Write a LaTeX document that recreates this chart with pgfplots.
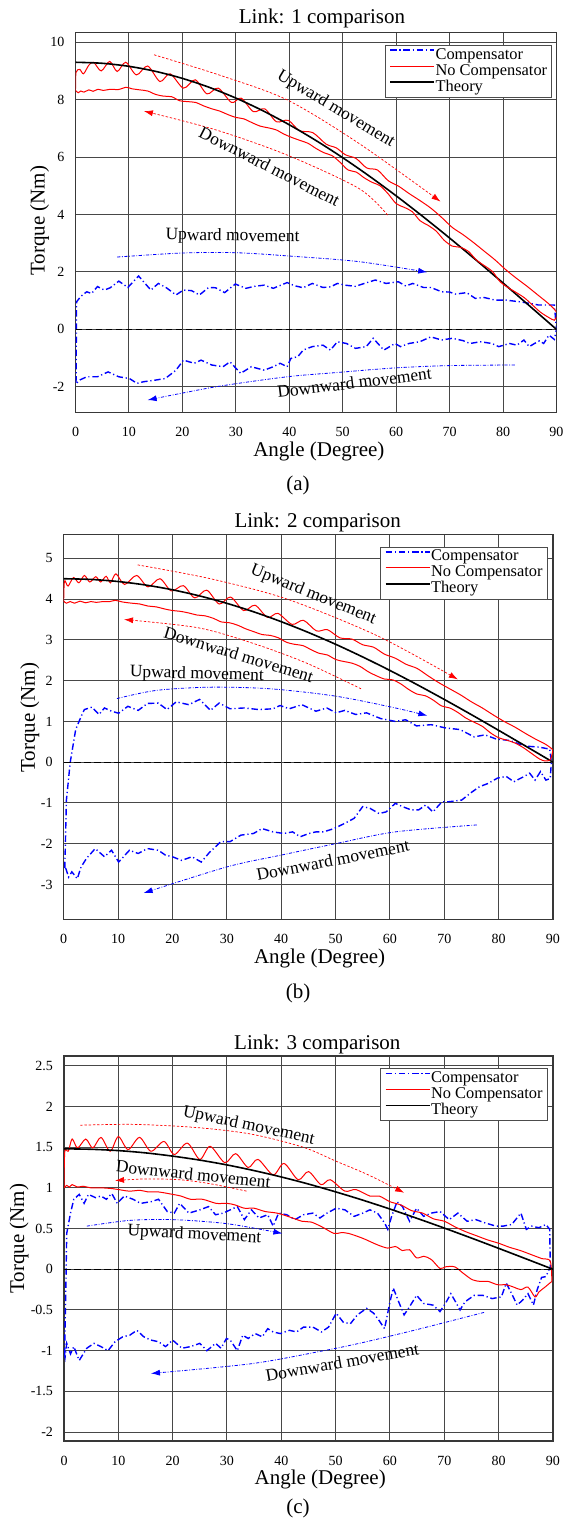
\documentclass[border=0pt]{standalone}
\usepackage{fontspec}
\setmainfont{Liberation Serif}
\usepackage{pgfplots}
\pgfplotsset{compat=1.18}
\usetikzlibrary{arrows.meta}

\newcommand\tickfont{\fontsize{7}{8}\selectfont}
\newcommand\labfont{\fontsize{10.5}{12}\selectfont}
\newcommand\legfont{\fontsize{8.2}{9}\selectfont}
\newcommand\annfont{\fontsize{8.7}{10}\selectfont}

\pgfplotsset{
  every axis title/.style={font=\labfont, anchor=base},
  linkpanel/.style={
    scale only axis, xmin=0, xmax=90, xtick={0,10,...,90},
    grid=major, major grid style={black!72, line width=0.5pt},
    axis line style={black!78, line width=0.6pt},
    major tick length=0pt,
    tick label style={font=\tickfont},
    xticklabel style={yshift=-3.8pt},
    yticklabel style={xshift=-2pt},
    /pgf/number format/assume math mode=true,
    xlabel style={font=\labfont, anchor=base},
    ylabel style={font=\labfont, anchor=base},
    xlabel={Angle (Degree)}, ylabel={Torque (Nm)},
    legend cell align=left,
    legend style={anchor=north east, draw=black!70, line width=0.5pt, fill=white,
      font=\legfont, inner xsep=2pt, inner ysep=1pt, row sep=0pt,
      nodes={inner sep=0.25pt, text height=5.6pt, text depth=1.9pt},
      /tikz/every even column/.append style={column sep=1.8pt}},
    legend image code/.code={\draw[##1] (0pt,2.6pt) -- (22pt,2.6pt);},
  },
  comp/.style={blue, line width=0.7pt, dash pattern=on 3.2pt off 1.4pt on 0.6pt off 1.4pt},
  nocomp/.style={red, line width=0.5pt, smooth},
  theory/.style={black, line width=0.8pt, smooth},
  zeroline/.style={black, line width=0.6pt, dash pattern=on 3.4pt off 1.6pt, forget plot},
  redarrow/.style={red, line width=0.35pt, dash pattern=on 1.2pt off 0.9pt, smooth, forget plot, -{Latex[length=4.5pt,width=3pt]}},
  bluearrow/.style={blue, line width=0.4pt, dash pattern=on 1.6pt off 0.8pt on 0.4pt off 0.8pt, smooth, forget plot, -{Latex[length=4.5pt,width=3pt]}},
}

\begin{document}
\begin{tikzpicture}
\useasboundingbox (0,0) rectangle (281.5pt,-759pt);

% ---------------- Link 1 ----------------
\begin{axis}[linkpanel, at={(37.75pt,-16.35pt)}, anchor=north west,
  width=240.5pt, height=190pt, ymin=-2.9, ymax=10.33, ytick={-2,0,...,10},
  title={Link: 1 comparison},
  title style={at={(axis description cs:0.5125,1.023)}},
  xlabel style={at={(axis description cs:0.506,-0.114)}},
  ylabel style={at={(axis description cs:-0.064,0.505)}},
  legend style={at={(0.991,0.968)}}]
\addplot[comp] coordinates {
 (0.1,-1.85) (0.2,0.96) (1,1.15) (2.1,1.31) (3,1.25) (4.1,1.49) (5.4,1.37) (6.5,1.45)
 (8.1,1.68) (9.8,1.46) (11.8,1.86) (14.1,1.37) (15.5,1.6) (17,1.45) (18.8,1.2) (20.2,1.37)
 (21.7,1.35) (23.2,1.2) (24.9,1.46) (26.2,1.45) (27.9,1.28) (29.9,1.58) (31.9,1.43) (33.5,1.5)
 (35.3,1.54) (37,1.43) (39.6,1.63) (41,1.52) (42.6,1.45) (44.3,1.6) (46.3,1.46) (47.7,1.48)
 (49,1.6) (50.4,1.54) (52.4,1.5) (53.7,1.58) (56.1,1.72) (58.1,1.6) (60.4,1.66) (61.8,1.51)
 (63.1,1.6) (65.1,1.46) (66.5,1.46) (68.5,1.31) (70,1.3) (71.1,1.23) (73.2,1.28) (74.8,1.08)
 (76.5,1.11) (78.5,1.02) (80.5,1.02) (83.2,0.96) (85.2,0.9) (86.6,0.85) (87.9,0.85) (89.6,0.85)
 (90,0) (89.6,-0.35) (88.6,-0.2) (87.6,-0.49) (86.8,-0.4) (85.9,-0.49) (84.9,-0.6) (83.9,-0.37)
 (82.6,-0.55) (81.2,-0.49) (79.2,-0.6) (77.9,-0.49) (75.8,-0.43) (73.8,-0.49) (72.5,-0.39)
 (70.5,-0.31) (68.5,-0.37) (66.5,-0.26) (64.4,-0.43) (62.4,-0.49) (60.8,-0.6) (59.8,-0.49)
 (57.7,-0.72) (55.7,-0.31) (54.4,-0.6) (52.4,-0.66) (50.7,-0.49) (49,-0.43) (47.7,-0.72)
 (46.3,-0.55) (44.3,-0.6) (42.6,-0.72) (41.6,-0.95) (40.3,-1.01) (39.6,-1.3) (38.3,-1.18)
 (37,-1.3) (35.3,-1.42) (32.9,-1.3) (30.9,-1.53) (28.9,-1.13) (27.6,-1.3) (25.5,-1.24)
 (23.5,-1.07) (22.2,-1.18) (20.2,-1.07) (18.8,-1.42) (16.8,-1.71) (14.8,-1.77) (12.8,-1.82)
 (11.5,-1.88) (10.1,-1.71) (8.1,-1.65) (6.1,-1.48) (4.1,-1.65) (2.1,-1.65) (0.7,-1.77)
 (0.2,-1.88) (0.1,-1.85)};
\addlegendentry{Compensator}
\addplot[nocomp] coordinates {
 (0,8.32) (0.1,8.95) (0.8,9.05) (1.5,8.9) (2.5,9.2) (3.4,9.3) (4.8,9.0) (6.4,9.33) (7.8,8.98)
 (9.4,9.3) (11.4,8.86) (13.5,9.17) (15.8,8.63) (17.7,8.9) (20.2,8.4) (22.4,8.69) (24.6,8.2)
 (26.7,8.4) (29.2,7.9) (31,8.05) (33.3,7.58) (35.4,7.68) (37.6,7.23) (39.8,7.28) (41.9,6.92)
 (44.4,6.85) (46.9,6.45) (48.8,6.32) (50.5,6.08) (52.5,5.95) (54.5,5.62) (56.5,5.55)
 (58.5,5.18) (60.5,4.98) (62.5,4.72) (64.5,4.48) (66.5,4.22) (68.5,3.9) (70.5,3.55)
 (72.5,3.3) (74.5,3.02) (76.5,2.72) (78.5,2.42) (80.5,2.08) (82.5,1.78) (84.5,1.5)
 (86.5,1.2) (88.5,0.9) (89.6,0.7) (90,0.6)};
\addlegendentry{No Compensator}
\addplot[theory] coordinates {
 (0,9.3) (5,9.265) (10,9.159) (15,8.983) (20,8.739) (25,8.429) (30,8.054) (35,7.618)
 (40,7.124) (45,6.576) (50,5.978) (55,5.334) (60,4.65) (65,3.93) (70,3.181) (75,2.407)
 (80,1.615) (85,0.811) (90,0)};
\addlegendentry{Theory}
\addplot[nocomp, forget plot] coordinates {
 (0,8.32) (0.5,8.24) (1,8.3) (1.6,8.26) (2.5,8.34) (3.3,8.29) (4.2,8.36) (5.2,8.32) (6.5,8.36)
 (8,8.35) (9.5,8.43) (10.5,8.38) (12,8.34) (13.5,8.3) (15,8.18) (16.5,8.12) (18,8.1)
 (19.5,7.96) (21,7.93) (22.5,7.9) (24,7.78) (25.5,7.68) (27,7.6) (28.5,7.48) (30,7.38)
 (31.5,7.33) (33,7.2) (34.5,7.08) (36,7.02) (37.5,6.95) (39,6.8) (40.5,6.68) (42,6.58)
 (43.5,6.48) (45,6.3) (46.5,6.15) (48,6.05) (49.5,5.82) (51,5.55) (52.5,5.48) (54,5.28)
 (55.5,5.12) (57,5.0) (58.5,4.72) (60,4.38) (61.5,4.25) (63,4.1) (64.5,3.78) (66,3.62)
 (67.5,3.42) (69,3.1) (70.5,2.9) (72,2.86) (73.5,2.72) (75,2.42) (76.5,2.22) (78,2.02)
 (79.5,1.65) (81,1.45) (82.5,1.28) (84,1.1) (85.5,0.85) (87,0.6) (88.5,0.42) (89.6,0.32)
 (90,0.45)};
\addplot[zeroline] coordinates {(0,0) (90,0)};
\addplot[redarrow] coordinates {(14.7,9.56) (27,8.85) (39.6,7.99) (53,6.48) (68.3,4.45)};
\addplot[redarrow] coordinates {(58.4,3.98) (53,4.91) (39.6,6.07) (26.2,6.95) (12.8,7.6)};
\addplot[bluearrow] coordinates {(7.8,2.52) (20,2.66) (30,2.67) (39.6,2.56) (53,2.36) (65.8,1.99)};
\addplot[bluearrow] coordinates {(82.2,-1.24) (70,-1.26) (59.8,-1.34) (49,-1.5) (39.6,-1.65) (26.2,-2.0) (13.5,-2.46)};
\node[font=\annfont, rotate=-31] at (axis cs:48.7,7.67) {Upward movement};
\node[font=\annfont, rotate=-27] at (axis cs:36.3,5.67) {Downward movement};
\node[font=\annfont, rotate=-1] at (axis cs:29.4,3.23) {Upward movement};
\node[font=\annfont, rotate=7] at (axis cs:52.2,-1.85) {Downward movement};
\end{axis}
\node[font=\labfont, anchor=base] at (149pt,-245pt) {(a)};

% ---------------- Link 2 ----------------
\begin{axis}[linkpanel, at={(31.85pt,-267.15pt)}, anchor=north west,
  width=244.65pt, height=192.6pt, ymin=-3.86, ymax=5.59, ytick={-3,-2,...,5},
  title={Link: 2 comparison},
  title style={at={(axis description cs:0.519,1.018)}},
  xlabel style={at={(axis description cs:0.523,-0.1137)}},
  ylabel style={at={(axis description cs:-0.0587,0.524)}},
  legend style={at={(0.989,0.968)}}]
\addplot[comp] coordinates {
 (0.2,-2.6) (0.5,-0.93) (1.2,0) (2.2,0.8) (3.2,1.12) (3.8,1.29) (5.2,1.35) (6.5,1.17) (7.5,1.33)
 (8.8,1.25) (10.1,1.2) (11.8,1.37) (13.7,1.27) (15.4,1.44) (17.4,1.45) (19,1.29) (20.7,1.48)
 (23,1.41) (25,1.54) (27,1.27) (28.6,1.45) (30.6,1.31) (33.2,1.33) (35.9,1.29) (38.5,1.31)
 (39.8,1.39) (41.5,1.31) (43.8,1.41) (46.4,1.25) (48.4,1.33) (50.1,1.21) (51.7,1.27)
 (53.7,1.17) (55.7,1.21) (58.3,1.07) (61,1.0) (62.9,1.04) (64.9,0.89) (67.6,0.92) (70.2,0.84)
 (72.9,0.8) (75.5,0.62) (77.5,0.67) (79.5,0.57) (82.1,0.53) (84.1,0.43) (85.4,0.39)
 (87.4,0.37) (89.4,0.32) (89.7,0) (89.5,-0.4) (88.7,-0.44) (87.7,-0.23) (86.7,-0.44)
 (85.7,-0.27) (84.7,-0.35) (82.8,-0.48) (81.4,-0.35) (79.8,-0.39) (78.1,-0.52) (76.5,-0.6)
 (74.8,-0.76) (73.2,-0.93) (70.9,-0.97) (69.6,-0.97) (67.9,-1.22) (66.6,-1.05) (65.3,-1.17)
 (63.9,-1.17) (62.3,-1.09) (61,-1.01) (59.3,-1.22) (58,-1.26) (56.3,-1.13) (55,-1.09)
 (53.4,-1.38) (51.7,-1.5) (49.7,-1.63) (47.8,-1.71) (46.4,-1.71) (45.1,-1.75) (43.5,-1.83)
 (42.1,-1.71) (40.5,-1.75) (38.5,-1.71) (36.5,-1.63) (34.9,-1.75) (32.6,-1.79) (30.6,-1.95)
 (28.9,-1.95) (27.9,-2.08) (26.9,-2.2) (25.3,-2.45) (23.6,-2.32) (21.7,-2.41) (20,-2.32)
 (18.7,-2.28) (17.4,-2.16) (15.4,-2.12) (13.7,-2.24) (12.1,-2.16) (10.1,-2.45) (8.8,-2.16)
 (7.5,-2.32) (5.8,-2.12) (4.2,-2.36) (3.2,-2.57) (2.5,-2.86) (1.5,-2.69) (0.9,-2.82)
 (0.3,-2.57) (0.2,-2.6)};
\addlegendentry{Compensator}
\addplot[nocomp] coordinates {
 (0,3.95) (0.15,4.45) (0.8,4.32) (1.8,4.53) (2.8,4.4) (3.8,4.58) (4.8,4.42) (5.9,4.55)
 (6.8,4.42) (7.8,4.56) (8.6,4.4) (9.6,4.62) (11.2,4.36) (13.4,4.58) (15.5,4.3) (17.7,4.5)
 (19.8,4.2) (22,4.33) (24.1,4.03) (26.3,4.22) (28.6,3.88) (30.7,4.05) (33.1,3.72) (35.2,3.85)
 (37.5,3.55) (39.4,3.65) (42,3.38) (44.1,3.48) (46.5,3.22) (48.5,3.25) (50.8,3.05) (53,3.02)
 (55,2.88) (57,2.82) (59,2.65) (61,2.55) (63,2.4) (65,2.3) (67,2.12) (69,1.95) (71,1.8)
 (73,1.65) (75,1.48) (77,1.33) (79,1.16) (81,1.0) (83,0.86) (85,0.7) (87,0.55) (88.5,0.45)
 (89.5,0.36) (90,0.3)};
\addlegendentry{No Compensator}
\addplot[theory] coordinates {
 (0,4.5) (5,4.483) (10,4.432) (15,4.347) (20,4.229) (25,4.078) (30,3.897) (35,3.686)
 (40,3.447) (45,3.182) (50,2.893) (55,2.581) (60,2.25) (65,1.902) (70,1.539) (75,1.165)
 (80,0.781) (85,0.392) (90,0)};
\addlegendentry{Theory}
\addplot[nocomp, forget plot] coordinates {
 (0,3.95) (0.5,3.9) (1.2,3.94) (2,3.9) (3,3.95) (4,3.91) (5,3.94) (6,3.92) (7.2,3.94)
 (8.5,3.94) (9.5,3.97) (10.8,3.93) (12.5,3.9) (14,3.88) (15.5,3.83) (17,3.81) (18.5,3.76)
 (20,3.72) (21.5,3.7) (23,3.66) (24.5,3.61) (26,3.59) (27.5,3.53) (29,3.44) (30.5,3.42)
 (32,3.36) (33.5,3.27) (35,3.2) (36.5,3.13) (38,3.11) (39.5,3.05) (41,2.94) (42.5,2.89)
 (44,2.86) (45.5,2.76) (47,2.67) (48.5,2.63) (50,2.52) (51.5,2.47) (53,2.43) (54.5,2.35)
 (56,2.22) (57.5,2.12) (59,2.04) (60.5,2.02) (62,1.92) (63.5,1.78) (65,1.67) (66.5,1.63)
 (68,1.52) (69.5,1.38) (71,1.33) (72.5,1.22) (74,1.08) (75.5,0.98) (77,0.88) (78.5,0.72)
 (80,0.6) (81.5,0.54) (83,0.47) (84.5,0.36) (86,0.22) (87.5,0.08) (88.5,0.03) (89.5,0.06)
 (90,0.3)};
\addplot[zeroline] coordinates {(0,0) (90,0)};
\addplot[redarrow] coordinates {(13.6,4.84) (27,4.5) (41.1,4.0) (57.7,3.1) (72.5,2.03)};
\addplot[redarrow] coordinates {(54.7,1.8) (44.5,2.44) (34.5,2.93) (24.6,3.3) (11.1,3.5)};
\addplot[bluearrow] coordinates {(9.8,1.56) (17,1.76) (27,1.84) (38,1.8) (50,1.62) (61,1.33) (66.9,1.14)};
\addplot[bluearrow] coordinates {(76,-1.54) (61,-1.71) (50,-2.0) (40,-2.28) (30,-2.57) (14.7,-3.21)};
\node[font=\annfont, rotate=-22] at (axis cs:45.9,4.1) {Upward movement};
\node[font=\annfont, rotate=-17] at (axis cs:32.2,2.64) {Downward movement};
\node[font=\annfont, rotate=-1.5] at (axis cs:24.5,2.15) {Upward movement};
\node[font=\annfont, rotate=11] at (axis cs:49.5,-2.4) {Downward movement};
\end{axis}
\node[font=\labfont, anchor=base] at (149pt,-499pt) {(b)};

% ---------------- Link 3 ----------------
\begin{axis}[linkpanel, at={(32pt,-528pt)}, anchor=north west,
  width=244.5pt, height=192.5pt, ymin=-2.11, ymax=2.62, ytick={-2,-1.5,...,2.5},
  title={Link: 3 comparison},
  title style={at={(axis description cs:0.518,1.0174)}},
  xlabel style={at={(axis description cs:0.524,-0.114)}},
  ylabel style={at={(axis description cs:-0.0814,0.525)}},
  legend style={at={(0.989,0.968)}}]
\addplot[comp] coordinates {
 (0.1,-1.04) (0.3,-0.38) (0.5,0.44) (1.2,0.69) (1.8,0.86) (2.8,0.92) (3.7,0.81) (4.5,0.92)
 (5.8,0.88) (6.8,0.9) (7.8,0.86) (8.8,0.93) (9.8,0.81) (11.1,0.9) (12.7,0.86) (14.1,0.81)
 (16,0.83) (17.4,0.86) (19,0.71) (20.3,0.69) (21.3,0.81) (23,0.69) (25,0.73) (26.6,0.77)
 (27.9,0.67) (29.3,0.69) (30.6,0.73) (31.9,0.77) (33.2,0.61) (34.5,0.73) (35.9,0.63)
 (37.5,0.67) (38.5,0.53) (39.5,0.69) (41,0.67) (42.5,0.61) (44.1,0.67) (45.8,0.69) (47.1,0.63)
 (48.4,0.69) (50.1,0.75) (51.7,0.73) (53.4,0.65) (55,0.69) (56.3,0.73) (57.7,0.69) (59,0.57)
 (59.6,0.49) (60.3,0.65) (61.3,0.83) (62.3,0.77) (63.6,0.59) (64.9,0.75) (66.2,0.65)
 (67.6,0.69) (69.2,0.71) (70.9,0.61) (72.5,0.69) (74.2,0.59) (75.8,0.61) (77.5,0.57)
 (79.5,0.53) (80.8,0.53) (82.4,0.55) (84.1,0.69) (85.1,0.49) (86.1,0.53) (87.4,0.51)
 (88.7,0.55) (89.4,0.49) (89.5,0.03) (88.7,-0.09) (87.9,-0.1) (87.1,-0.25) (86.4,-0.44)
 (85.4,-0.3) (84.4,-0.38) (83.4,-0.44) (82.4,-0.3) (81.4,-0.17) (80.5,-0.34) (78.8,-0.36)
 (77.1,-0.32) (75.5,-0.32) (73.8,-0.4) (72.9,-0.5) (71.9,-0.38) (71.2,-0.3) (70.2,-0.42)
 (69.2,-0.52) (67.9,-0.44) (66.2,-0.42) (64.9,-0.32) (63.6,-0.46) (62.6,-0.56) (61.6,-0.4)
 (60.6,-0.23) (60,-0.4) (59,-0.73) (58,-0.63) (57,-0.54) (55.7,-0.48) (54,-0.56) (52.7,-0.67)
 (51.4,-0.65) (50.1,-0.54) (48.7,-0.71) (47.4,-0.77) (45.8,-0.71) (44.1,-0.71) (42.8,-0.77)
 (41.5,-0.75) (39.8,-0.79) (38.5,-0.77) (37.5,-0.73) (36.5,-0.83) (35.2,-0.79) (33.9,-0.85)
 (32.9,-0.81) (31.9,-1.0) (30.6,-0.87) (29.9,-0.85) (28.9,-0.97) (27.9,-0.91) (26.3,-1.0)
 (25,-0.91) (23.3,-0.95) (21.7,-0.97) (20,-0.87) (18.7,-0.95) (17.4,-0.89) (16,-0.87)
 (14.7,-0.83) (13.4,-0.75) (12.1,-0.81) (10.8,-0.83) (9.4,-0.89) (8.1,-1.0) (6.8,-0.95)
 (5.5,-0.91) (4.2,-0.97) (2.8,-1.12) (1.8,-0.95) (1.2,-1.04) (0.5,-0.91) (0.2,-1.08)
 (0.1,-1.04)};
\addlegendentry{Compensator}
\addplot[nocomp] coordinates {
 (0,1.0) (0.15,1.45) (0.8,1.45) (1.5,1.6) (2.5,1.49) (4,1.6) (5.3,1.49) (6.8,1.62) (8.5,1.45)
 (10,1.63) (11.8,1.47) (13.9,1.62) (16,1.45) (18.4,1.57) (20.3,1.41) (22.7,1.55) (25,1.35)
 (26.9,1.51) (29.6,1.31) (31.6,1.42) (33.9,1.25) (35.7,1.35) (38.5,1.16) (40.5,1.3)
 (43.1,1.1) (45,1.2) (47.3,1.04) (49,1.1) (51.7,0.96) (53.7,0.98) (56.3,0.9) (58,0.9)
 (60,0.83) (62,0.79) (64,0.72) (66,0.69) (68,0.62) (70,0.59) (72,0.52) (74,0.46) (76,0.41)
 (78,0.36) (80,0.32) (82,0.27) (84,0.23) (86,0.18) (88,0.13) (89.5,0.1) (89.8,-0.15)};
\addlegendentry{No Compensator}
\addplot[theory] coordinates {
 (0,1.48) (5,1.474) (10,1.458) (15,1.43) (20,1.39) (25,1.341) (30,1.282) (35,1.212)
 (40,1.134) (45,1.047) (50,0.951) (55,0.849) (60,0.74) (65,0.625) (70,0.506) (75,0.383)
 (80,0.257) (85,0.129) (90,0)};
\addlegendentry{Theory}
\addplot[nocomp, forget plot] coordinates {
 (0,1.0) (0.5,1.03) (1,1.01) (1.5,1.04) (2.5,1.01) (3.5,1.02) (5,1.0) (7,1.0) (9,0.99)
 (10,0.98) (12,0.96) (14,0.97) (15.5,0.95) (17.4,0.95) (20,0.92) (21.5,0.9) (23.3,0.86)
 (25.5,0.86) (28,0.81) (30,0.81) (31.5,0.79) (33.2,0.75) (35,0.75) (37,0.71) (39.2,0.69)
 (41.2,0.65) (43.8,0.59) (45.5,0.58) (47.5,0.52) (49.7,0.44) (51,0.45) (52.4,0.44)
 (55,0.38) (57.7,0.3) (59.6,0.26) (61,0.28) (62.3,0.23) (63.6,0.24) (64.9,0.14) (66.2,0.16)
 (67.6,0.12) (69.2,0.01) (70.2,0.03) (71.9,0.03) (73.5,-0.05) (75.2,-0.13) (76.8,-0.15)
 (78.1,-0.15) (79.8,-0.19) (81.4,-0.19) (82.8,-0.22) (84.1,-0.25) (85.4,-0.22) (86.7,-0.34)
 (87.4,-0.28) (88.7,-0.21) (89.4,-0.17) (89.8,-0.15)};
\addplot[zeroline] coordinates {(0,0) (90,0)};
\addplot[redarrow] coordinates {(3,1.77) (13,1.78) (24.6,1.74) (34.5,1.66) (44,1.5) (50,1.33) (56,1.16) (62.6,0.94)};
\addplot[redarrow] coordinates {(33.6,0.96) (27,1.05) (21.3,1.1) (15,1.11) (9.4,1.09)};
\addplot[bluearrow] coordinates {(4.2,0.53) (12,0.6) (20,0.61) (30,0.56) (40.2,0.44)};
\addplot[bluearrow] coordinates {(77.3,-0.53) (65,-0.74) (55,-0.9) (47.8,-1.0) (34.5,-1.16) (16,-1.28)};
\node[font=\annfont, rotate=-12] at (axis cs:34,1.76) {Upward movement};
\node[font=\annfont, rotate=-6] at (axis cs:23.8,1.17) {Downward movement};
\node[font=\annfont, rotate=-3] at (axis cs:24,0.42) {Upward movement};
\node[font=\annfont, rotate=10] at (axis cs:51.2,-1.14) {Downward movement};
\end{axis}
\node[font=\labfont, anchor=base] at (149pt,-756.5pt) {(c)};
\end{tikzpicture}
\end{document}
